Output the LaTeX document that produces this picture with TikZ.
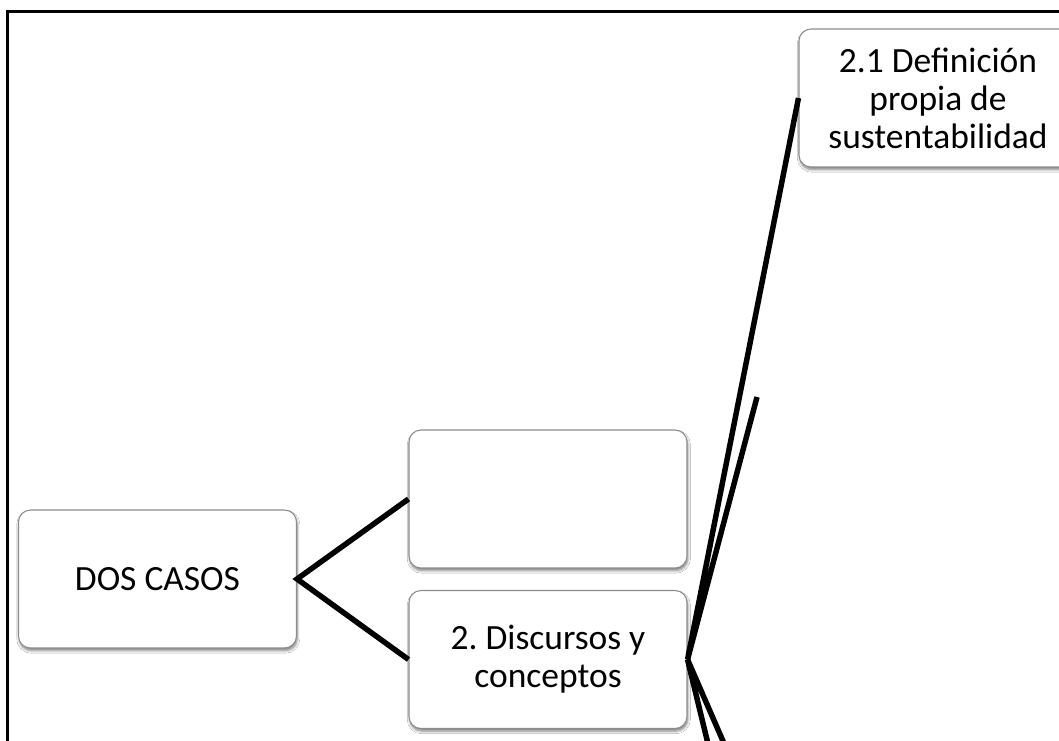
\documentclass[tikz,border=0pt]{standalone}
\usepackage{fontspec}
\setmainfont{Carlito}
\frenchspacing
\usetikzlibrary{shadows.blur}
\begin{document}
\begin{tikzpicture}[x=0.75pt,y=-0.75pt,
  box/.style={draw=black!45, line width=0.8pt, fill=white, rounded corners=9pt,
    minimum width=208.5pt, minimum height=103.5pt, inner sep=0pt, align=center,
    font=\fontsize{26.6}{28.6}\selectfont,
    blur shadow={shadow xshift=0.6pt, shadow yshift=-2pt, shadow blur steps=6, shadow opacity=50}},
  link/.style={line width=4.1pt, line join=miter}]
\clip (0,0) rectangle (1059,740);
\fill[white] (0,0) rectangle (1059,740);
% outer frame
\draw[line width=2.5pt] (7.5,760) |- (1080,11.5);
% boxes
\node[box] (dos)   at (157.5,579)  {DOS CASOS};
\node[box] (empty) at (548,499)    {};
\node[box] (disc)  at (548,659.5)  {2. Discursos y\\conceptos};
\node[box] (def)   at (938,98)     {2.1 Definición\\propia de\\sustentabilidad};
% loose ends of the branches
\coordinate (up2) at (757,397);
\coordinate (dn1) at (709,748);
\coordinate (dn2) at (726,748);
% connectors
\draw[link] (empty.west) -- (dos.east) -- (disc.west);
\draw[link] (def.west) -- (disc.east) -- (up2);
\draw[link] (dn1) -- (disc.east) -- (dn2);
\end{tikzpicture}
\end{document}
